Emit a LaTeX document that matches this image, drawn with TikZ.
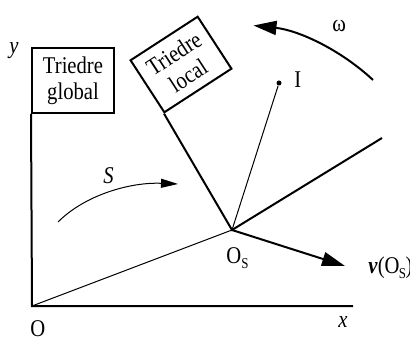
\documentclass[tikz,border=0pt]{standalone}
\usepackage{fontspec}
\setmainfont{Liberation Serif}[FakeStretch=0.86]
\usetikzlibrary{arrows.meta}
\newcommand{\subS}{\raisebox{-0.45ex}{\fontsize{7.5}{7.5}\selectfont S}}
\begin{document}
\begin{tikzpicture}[x=0.5pt,y=-0.5pt,
  font=\fontsize{12}{13}\selectfont,
  axis/.style={line width=1pt},
  fine/.style={line width=0.5pt},
  framebox/.style={draw, line width=1pt, fill=white, align=center, inner sep=0pt},
  lbl/.style={inner sep=0pt, anchor=base west},
  dotnode/.style={circle, fill=black, inner sep=0pt, minimum size=2.5pt},
  bigtip/.style={-{Triangle[length=11.5pt,width=7pt]}},
  smalltip/.style={-{Triangle[length=8.5pt,width=4.5pt]}}]
\useasboundingbox (0,0) rectangle (410,340);
% points
\coordinate (O) at (32,306);
\coordinate (Os) at (232,230);
\coordinate (xend) at (353,306);
\coordinate (xp) at (382,138);
\coordinate (vend) at (345,266);
% global frame
\node[framebox, minimum width=41pt, minimum height=32.5pt] (glob) at (73,80.5) {Triedre\\global};
\draw[axis] (glob.south west) -- (O) -- (xend);
% local frame
\node[framebox, minimum width=40pt, minimum height=31pt, rotate=33] (loc) at (181,64.5) {Triedre\\local};
\draw[axis] (loc.south west) -- (Os) -- (xp);
% thin lines
\draw[fine] (O) -- (Os);
\node[dotnode] (I) at (279,83) {};
\draw[fine] (Os) -- (I);
% arrows
\draw[axis, bigtip] (Os) -- (vend);
\draw[axis, bigtip] (373,80) arc[start angle=-47, end angle=-84, radius=207];
\draw[fine, smalltip] (58,222) .. controls (85,195) and (130,182) .. (178,184);
% labels
\node[lbl] (ylbl) at (9,54) {\textit{y}};
\node[lbl] (xlbl) at (338,327) {\textit{x}};
\node[lbl] (Olbl) at (30,336) {O};
\node[lbl] (Oslbl) at (226,264) {O\subS};
\node[lbl] (vlbl) at (368,274) {\textbf{\textit{v}}(O\kern-0.3pt\subS\kern-0.3pt)};
\node[lbl] (Ilbl) at (294,88) {I};
\node[lbl] (wlbl) at (332,32) {ω};
\node[lbl] (Slbl) at (103,184) {\textit{S}};
\end{tikzpicture}
\end{document}
